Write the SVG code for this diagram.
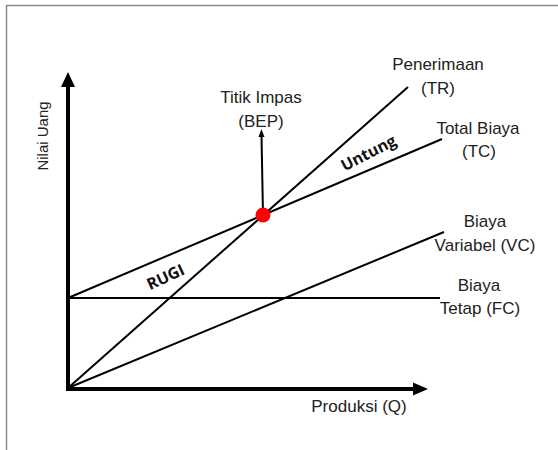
<svg xmlns="http://www.w3.org/2000/svg" width="558" height="450" viewBox="0 0 558 450">
<style>
.t{font-family:"Liberation Sans",Arial,sans-serif;font-size:17px;fill:#222;text-anchor:middle}
.b{font-family:"Open Sans","Liberation Sans",sans-serif;font-size:16px;font-weight:bold;fill:#111;text-anchor:middle}
.ln{stroke:#000;stroke-width:2;fill:none}
.ax{stroke:#000;stroke-width:4;fill:none}
</style>
<rect width="558" height="450" fill="#fff"/>
<path d="M6.5,450 V5.5 H558" fill="none" stroke="#8a8a8a" stroke-width="1.5"/>
<g id="connectors">
<line class="ln" x1="68" y1="298" x2="440" y2="298"/>
<line class="ln" x1="68" y1="298" x2="442" y2="139"/>
<line class="ln" x1="68" y1="388" x2="408" y2="87"/>
<line class="ln" x1="68" y1="388" x2="444" y2="232"/>
<line class="ln" x1="263" y1="215" x2="261.5" y2="136" stroke-width="1.5"/>
<path d="M261.4,129 L258.5,137 L264.5,137 Z" fill="#000"/>
</g>
<g id="axes">
<line class="ax" x1="68" y1="390" x2="68" y2="85"/>
<path d="M68,72 L61,87 L75,87 Z" fill="#000"/>
<line class="ax" x1="66" y1="389" x2="415" y2="389"/>
<path d="M428,389 L413,382.5 L413,395.5 Z" fill="#000"/>
</g>
<g id="bep"><circle cx="263" cy="215" r="7.5" fill="#f00"/></g>
<g id="labels">
<text class="t" x="438" y="70">Penerimaan</text>
<text class="t" x="438" y="94">(TR)</text>
<text class="t" x="261" y="103">Titik Impas</text>
<text class="t" x="261" y="127">(BEP)</text>
<text class="t" x="478" y="134">Total Biaya</text>
<text class="t" x="479" y="157">(TC)</text>
<text class="t" x="485" y="227">Biaya</text>
<text class="t" x="485" y="251">Variabel (VC)</text>
<text class="t" x="479" y="291">Biaya</text>
<text class="t" x="480" y="314">Tetap (FC)</text>
<text class="t" x="359" y="412">Produksi (Q)</text>
<text class="t" style="font-size:15px" transform="translate(48,136) rotate(-90)">Nilai Uang</text>
<text class="b" transform="translate(371,158) rotate(-27)">Untung</text>
<text class="b" transform="translate(168,282) rotate(-25)">RUGI</text>
</g>
</svg>
